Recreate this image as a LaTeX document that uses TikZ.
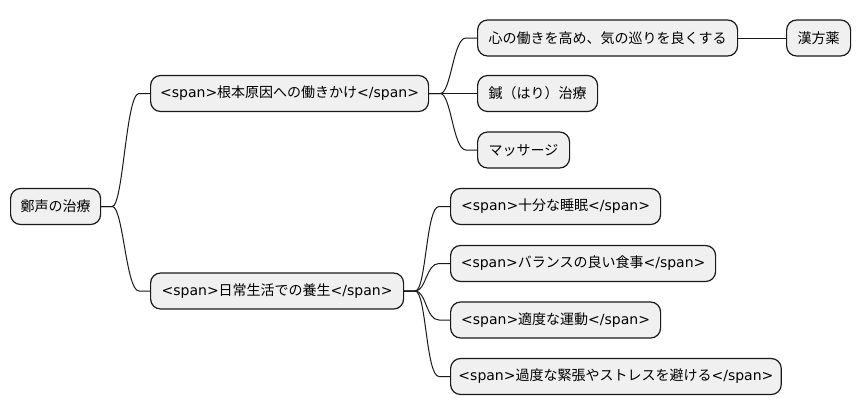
\documentclass[tikz,border=0pt]{standalone}
\usepackage{fontspec}
\setmainfont{DejaVu Sans}
\newfontfamily\cjk{Noto Sans CJK JP}
\usetikzlibrary{calc}
\begin{document}
\begin{tikzpicture}[x=0.75pt,y=-0.75pt,
 mmnode/.style={draw=black!90, line width=0.9pt, fill=black!6, rounded corners=7.5pt,
   minimum height=27pt, inner sep=0pt, anchor=west,
   font=\fontsize{10.5pt}{12pt}\selectfont},
 link/.style={line width=0.75pt, draw=black!90}]
\useasboundingbox (0,0) rectangle (859,415);
\node[mmnode, minimum width=67.5pt] (root) at (10,206.5) {\cjk 鄭声の治療};
\node[mmnode, minimum width=208.5pt] (a) at (150,93.5) {<span>{\cjk 根本原因への働きかけ}</span>};
\node[mmnode, minimum width=189.75pt] (b) at (150,291) {<span>{\cjk 日常生活での養生}</span>};
\node[mmnode, minimum width=195pt] (a1) at (477,38) {\cjk 心の働きを高め、気の巡りを良くする};
\node[mmnode, minimum width=48pt] (a1k) at (786,38) {\cjk 漢方薬};
\node[mmnode, minimum width=90pt] (a2) at (477,93.5) {\cjk 鍼（はり）治療};
\node[mmnode, minimum width=69pt] (a3) at (477,150) {\cjk マッサージ};
\node[mmnode, minimum width=157.5pt] (b1) at (450,206.5) {<span>{\cjk 十分な睡眠}</span>};
\node[mmnode, minimum width=198.75pt] (b2) at (450,263.5) {<span>{\cjk バランスの良い食事}</span>};
\node[mmnode, minimum width=157.5pt] (b3) at (450,320) {<span>{\cjk 適度な運動}</span>};
\node[mmnode, minimum width=248pt] (b4) at (450,376.5) {<span>{\cjk 過度な緊張やストレスを避ける}</span>};
\foreach \p/\c in {root/a, root/b, a/a1, a/a2, a/a3, b/b1, b/b2, b/b3, b/b4}{
  \draw[link] (\p.east) -- ++(11,0) .. controls +(11,0) and +(-13,0) .. ($(\c.west)+(-11,0)$) -- (\c.west);
}
\draw[link] (a1.east) -- (a1k.west);
\end{tikzpicture}
\end{document}
